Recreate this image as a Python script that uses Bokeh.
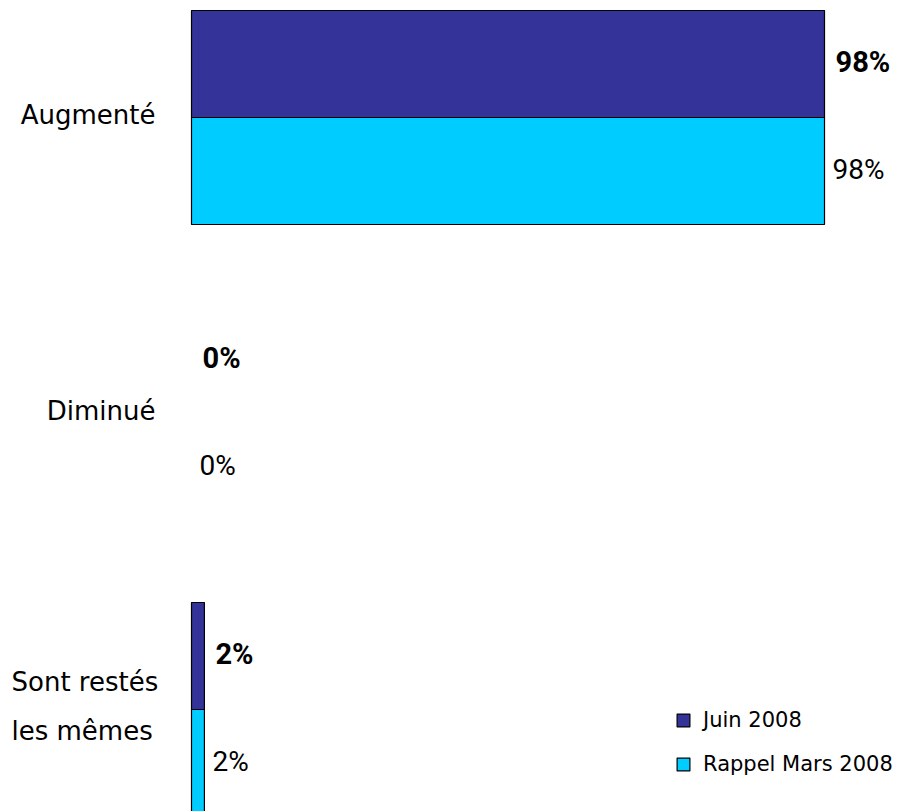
from bokeh.plotting import figure
from bokeh.models import ColumnDataSource, Range1d, Legend, LegendItem
from bokeh.core.properties import value
from bokeh.embed import file_html
from bokeh.resources import INLINE

# ---- data ----
categories = ["Augmenté", "Diminué", "Sont restés\nles mêmes"]
juin_2008 = [98, 0, 2]
mars_2008 = [98, 0, 2]
series_names = ["Juin 2008", "Rappel Mars 2008"]
series_colors = ["#333399", "#00CCFF"]

n = len(categories)
pos = list(range(n))
half = 0.3615

src_j = ColumnDataSource(dict(
    y=[p_ - half / 2 for p_ in pos], v=juin_2008,
    la=[1 if v > 0 else 0 for v in juin_2008],
    lab=[f"{v}%" for v in juin_2008]))
src_m = ColumnDataSource(dict(
    y=[p_ + half / 2 for p_ in pos], v=mars_2008,
    la=[1 if v > 0 else 0 for v in mars_2008],
    lab=[f"{v}%" for v in mars_2008]))

p = figure(width=897, height=811, output_backend="svg", toolbar_location=None,
           x_range=Range1d(-29.57, 109.30), y_range=Range1d(2.3446, -0.3953),
           x_axis_location=None, y_axis_location=None, min_border=0)
p.grid.visible = False
p.outline_line_color = None
p.background_fill_color = "white"

r_j = p.hbar(y="y", left=0, right="v", height=half, source=src_j,
             fill_color=series_colors[0], line_color="black", line_width=1.2, line_alpha="la")
r_m = p.hbar(y="y", left=0, right="v", height=half, source=src_m,
             fill_color=series_colors[1], line_color="black", line_width=1.2, line_alpha="la")

p.text(x="v", y="y", text="lab", source=src_j, x_offset=11, y_offset=-2,
       text_font=value("Roboto"), text_font_style="bold", text_font_size="29px",
       text_baseline="middle", text_align="left", text_color="black")
p.text(x="v", y="y", text="lab", source=src_m, x_offset=8, y_offset=-2,
       text_font=value("Roboto"), text_font_size="28px",
       text_baseline="middle", text_align="left", text_color="black")

cat_src = ColumnDataSource(dict(
    y=pos, x=[0] * n, t=categories,
    al=["right", "right", "left"], xo=[-36, -36, -180]))
p.text(x="x", y="y", text="t", source=cat_src, x_offset="xo", y_offset=-3,
       text_align="al", text_baseline="middle", text_font=value("DejaVu Sans"),
       text_font_size="26px", text_line_height=1.62, text_color="black")

legend = Legend(items=[LegendItem(label=series_names[0], renderers=[r_j]),
                       LegendItem(label=series_names[1], renderers=[r_m])],
                location=(675, 35), orientation="vertical",
                glyph_width=16, glyph_height=16, label_height=24, spacing=20,
                label_standoff=12, padding=0, margin=0,
                label_text_font="DejaVu Sans", label_text_font_size="21px",
                label_text_color="black",
                border_line_color=None, background_fill_alpha=0)
p.add_layout(legend, "center")

open("out.html", "w").write(file_html(p, INLINE))
